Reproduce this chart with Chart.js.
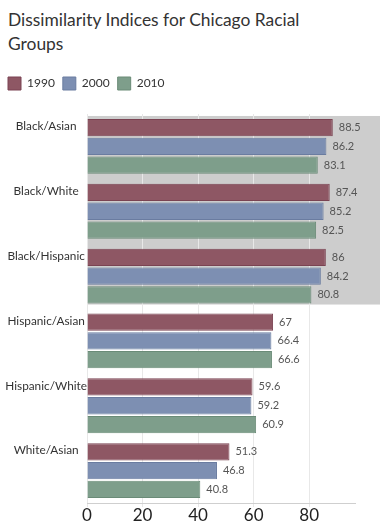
<!DOCTYPE html>
<html>
<head>
<meta charset="utf-8">
<script src="https://cdn.jsdelivr.net/npm/chart.js@4"></script>
<style>
  html, body { margin: 0; padding: 0; background: #fff; }
  #title {
    box-sizing: border-box;
    height: 56px;
    padding: 8px 8px 0 8px;
    font-family: Lato, "Open Sans", sans-serif;
    font-size: 17.4px;
    line-height: 24px;
    color: #333;
    white-space: nowrap;
  }
  #wrap { width: 380px; height: 476px; }
</style>
</head>
<body>
<div id="title">Dissimilarity Indices for Chicago Racial<br>Groups</div>
<div id="wrap"><canvas id="chart"></canvas></div>
<script>
'use strict';
// data
var groups = ['Black/Asian', 'Black/White', 'Black/Hispanic', 'Hispanic/Asian', 'Hispanic/White', 'White/Asian'];
var years = ['1990', '2000', '2010'];
var values1990 = [88.5, 87.4, 86, 67, 59.6, 51.3];
var values2000 = [86.2, 85.2, 84.2, 66.4, 59.2, 46.8];
var values2010 = [83.1, 82.5, 80.8, 66.6, 60.9, 40.8];
var highlighted = ['Black/Asian', 'Black/White', 'Black/Hispanic'];

var fills = ['#8e5764', '#7d8fb2', '#7e9e8b'];
var borders = ['#7a4352', '#6a7ca0', '#6a8b77'];
var font = 'Lato, "Open Sans", sans-serif';

// gray band behind the highlighted groups
var bandPlugin = {
  id: 'band',
  beforeDatasetsDraw: function(chart) {
    var ctx = chart.ctx;
    var first = groups.indexOf(highlighted[0]);
    var last = groups.indexOf(highlighted[highlighted.length - 1]);
    var topBar = chart.getDatasetMeta(0).data[first];
    var botBar = chart.getDatasetMeta(chart.data.datasets.length - 1).data[last];
    var top = topBar.y - topBar.height / 2 - 3;
    var bottom = botBar.y + botBar.height / 2 + 1;
    ctx.save();
    ctx.globalCompositeOperation = 'destination-over';
    ctx.fillStyle = '#cdcdcd';
    ctx.fillRect(chart.chartArea.left, top, chart.width - chart.chartArea.left, bottom - top);
    ctx.restore();
  }
};

// value labels at the end of bars
var valuePlugin = {
  id: 'values',
  afterDatasetsDraw: function(chart) {
    var ctx = chart.ctx;
    ctx.save();
    ctx.font = '11px ' + font;
    ctx.fillStyle = '#555';
    ctx.textAlign = 'left';
    ctx.textBaseline = 'middle';
    chart.data.datasets.forEach(function(ds, i) {
      chart.getDatasetMeta(i).data.forEach(function(bar, j) {
        ctx.fillText(String(ds.data[j]), bar.x + 6, bar.y);
      });
    });
    ctx.restore();
  }
};

function makeSet(i, data) {
  return {
    label: years[i],
    data: data,
    backgroundColor: fills[i],
    borderColor: borders[i],
    borderWidth: 1,
    categoryPercentage: 0.87,
    barPercentage: 0.92
  };
}

var ctx = document.getElementById('chart').getContext('2d');
var chart = new Chart(ctx, {
  type: 'bar',
  data: {
    labels: groups,
    datasets: [makeSet(0, values1990), makeSet(1, values2000), makeSet(2, values2010)]
  },
  options: {
    indexAxis: 'y',
    responsive: true,
    maintainAspectRatio: false,
    animation: false,
    layout: { padding: { left: 0, right: 25, top: 13, bottom: 8 } },
    plugins: {
      title: { display: false },
      legend: {
        display: true,
        align: 'start',
        labels: {
          boxWidth: 13,
          boxHeight: 13,
          color: '#333',
          font: { family: font, size: 12 },
          padding: 8
        }
      },
      tooltip: { enabled: false }
    },
    scales: {
      x: {
        min: 0,
        max: 96.5,
        ticks: {
          stepSize: 20,
          includeBounds: false,
          color: '#222',
          font: { family: font, size: 17, lineHeight: 1 },
          padding: 0
        },
        grid: { color: '#e8e8e8', tickLength: 4 },
        border: { color: '#cfcfcf' }
      },
      xTop: {
        position: 'top',
        display: true,
        ticks: { display: false },
        grid: { display: false, drawTicks: false },
        border: { display: false },
        afterFit: function(scale) { scale.height = 14; }
      },
      y: {
        grid: { display: false, drawTicks: false },
        border: { display: false },
        ticks: {
          crossAlign: 'center',
          labelOffset: -20,
          padding: 0,
          color: '#333',
          font: { family: font, size: 11.8 }
        },
        afterFit: function(scale) { scale.width = 87; }
      }
    }
  },
  plugins: [bandPlugin, valuePlugin]
});
</script>
</body>
</html>
